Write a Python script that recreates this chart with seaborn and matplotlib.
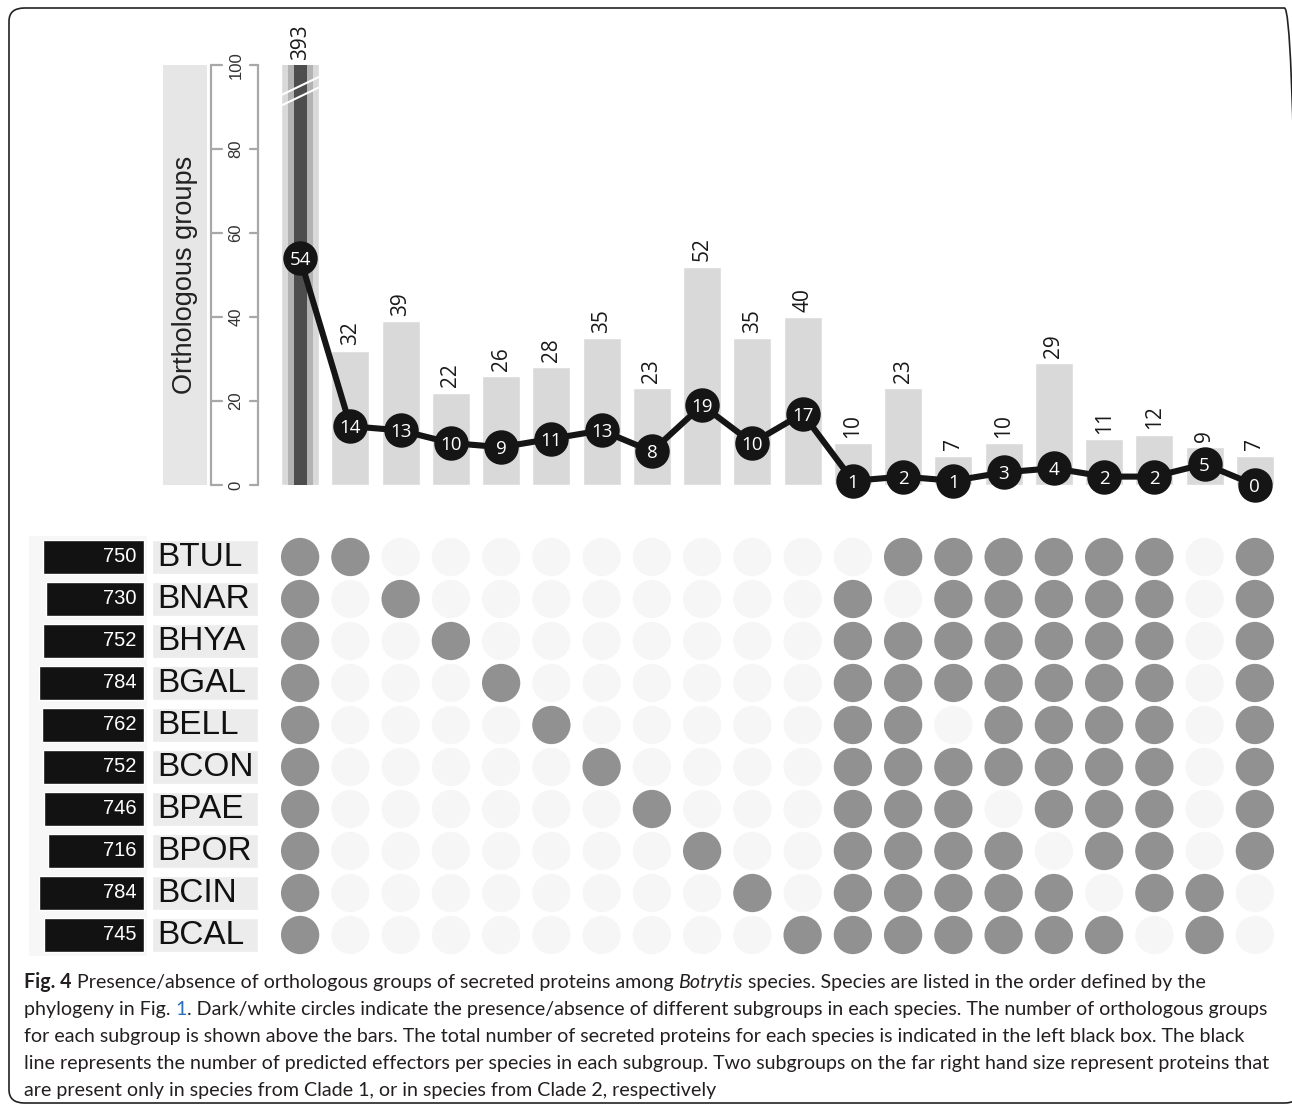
import numpy as np
import pandas as pd
import matplotlib
matplotlib.use("Agg")
import matplotlib.pyplot as plt
import seaborn as sns
from matplotlib.patches import FancyBboxPatch

# ---- data -------------------------------------------------------------
subgroups = [f"S{i:02d}" for i in range(1, 21)]
orthologous_groups = [393, 32, 39, 22, 26, 28, 35, 23, 52, 35, 40,
                      10, 23, 7, 10, 29, 11, 12, 9, 7]
predicted_effectors = [54, 14, 13, 10, 9, 11, 13, 8, 19, 10, 17,
                       1, 2, 1, 3, 4, 2, 2, 5, 0]
species = ["BTUL", "BNAR", "BHYA", "BGAL", "BELL",
           "BCON", "BPAE", "BPOR", "BCIN", "BCAL"]
secreted_totals = [750, 730, 752, 784, 762, 752, 746, 716, 784, 745]
# presence (1) / absence (0) of each subgroup, one string per species
presence = [
    "11000000000011111101",  # BTUL
    "10100000000101111101",  # BNAR
    "10010000000111111101",  # BHYA
    "10001000000111111101",  # BGAL
    "10000100000110111101",  # BELL
    "10000010000111111101",  # BCON
    "10000001000111011101",  # BPAE
    "10000000100111101101",  # BPOR
    "10000000010111110110",  # BCIN
    "10000000001111111010",  # BCAL
]
y_ticks = [0, 20, 40, 60, 80, 100]
y_label = "Orthologous groups"

caption_lines = [
    [("Fig. 4", "bold"), (" Presence/absence of orthologous groups of secreted proteins among ", "normal"),
     ("Botrytis", "italic"), (" species. Species are listed in the order defined by the", "normal")],
    [("phylogeny in Fig. ", "normal"), ("1", "link"),
     (". Dark/white circles indicate the presence/absence of different subgroups in each species. "
      "The number of orthologous groups", "normal")],
    [("for each subgroup is shown above the bars. The total number of secreted proteins for each "
      "species is indicated in the left black box. The black", "normal")],
    [("line represents the number of predicted effectors per species in each subgroup. Two subgroups "
      "on the far right hand size represent proteins that", "normal")],
    [("are present only in species from Clade 1, or in species from Clade 2, respectively", "normal")],
]

# ---- figure ---------------------------------------------------------------
W, H = 1292, 1107
sns.set_theme(style="white")
plt.rcParams["font.family"] = ["Liberation Sans", "DejaVu Sans"]
fig = plt.figure(figsize=(W / 100, H / 100), dpi=100)
fig.patch.set_facecolor("white")


def px_axes(left, top, right, bottom):
    return fig.add_axes([left / W, 1 - bottom / H, (right - left) / W, (bottom - top) / H])


PX_PER_UNIT = 4.2  # vertical pixels per orthologous group

# frame around the whole figure
fig.patches.append(FancyBboxPatch((9 / W, 1 - 1103 / H), (1300 - 9) / W, (1103 - 8) / H,
                                  boxstyle="round,pad=0,rounding_size=0.012",
                                  transform=fig.transFigure, fill=False,
                                  edgecolor="#222222", linewidth=1.2))

# ---- top: bars + effector line -------------------------------------------
ax = px_axes(275, 65, 1280, 500)
bar_df = pd.DataFrame({"subgroup": subgroups, "groups": orthologous_groups})
sns.barplot(data=bar_df, x="subgroup", y="groups", order=subgroups, color="#d9d9d9",
            saturation=1, width=0.76, ax=ax)
# layered stripes of the truncated first bar
ax.bar([0], [orthologous_groups[0]], width=0.50, color="#b3b3b3", linewidth=0)
ax.bar([0], [orthologous_groups[0]], width=0.26, color="#4d4d4d", linewidth=0)
# break marks
for y0 in (90.2, 92.7):
    ax.plot([-0.40, 0.40], [y0, y0 + 4.6], color="white", lw=1.5, solid_capstyle="butt", zorder=5)

sns.pointplot(x=subgroups, y=predicted_effectors, order=subgroups, color="#151515",
              markers="o", markersize=21.5, linewidth=4.4, errorbar=None, ax=ax, zorder=6)
for coll in ax.collections + ax.lines:
    coll.set_clip_on(False)

ax.set_xlim(-0.5, 19.5)
ax.set_ylim(-15 / PX_PER_UNIT, 100)
for i, (v, e) in enumerate(zip(orthologous_groups, predicted_effectors)):
    ax.annotate(str(v), (i, min(v, 100)), xytext=(0, 3.8), textcoords="offset points",
                rotation=90, ha="center", va="bottom", fontsize=15,
                family=["Open Sans", "DejaVu Sans"], color="#1a1a1a", annotation_clip=False)
    ax.text(i, e, str(e), ha="center", va="center_baseline", color="white",
            fontsize=13.5, family=["Open Sans", "DejaVu Sans"], zorder=10, clip_on=False)
ax.set_axis_off()

# y scale box
ax_scale = px_axes(211, 65, 258, 485)
ax_scale.set_xlim(0, 1)
ax_scale.set_ylim(0, 100)
ax_scale.set_axis_off()
grey = "#a8a8a8"
ax_scale.plot([0, 0], [0, 100], color=grey, lw=1.6, clip_on=False)
ax_scale.plot([1, 1], [0, 100], color=grey, lw=1.6, clip_on=False)
for t in y_ticks:
    ax_scale.plot([0, 0.24], [t, t], color=grey, lw=1.6, clip_on=False)
    ax_scale.plot([0.83, 1], [t, t], color=grey, lw=1.6, clip_on=False)
    ax_scale.text(0.53, t, str(t), rotation=90, ha="center", va="center",
                  fontsize=12, color="#333333")

# y label panel
ax_lab = px_axes(163, 65, 207, 485)
ax_lab.set_facecolor("#e6e6e6")
ax_lab.set_xticks([])
ax_lab.set_yticks([])
for s in ax_lab.spines.values():
    s.set_visible(False)
ax_lab.text(0.5, 0.5, y_label, rotation=90, ha="center", va="center",
            fontsize=19.5, color="#222222", transform=ax_lab.transAxes)

# ---- bottom: presence matrix -------------------------------------------
rows = []
for r, code in enumerate(presence):
    for c, ch in enumerate(code):
        rows.append({"col": c, "row": r, "present": int(ch)})
mat = pd.DataFrame(rows)
axm = px_axes(275, 536, 1280, 956)
sns.scatterplot(data=mat, x="col", y="row", hue="present",
                palette={1: "#919191", 0: "#f6f6f6"}, s=760, linewidth=0,
                legend=False, ax=axm)
axm.set_xlim(-0.5, 19.5)
axm.set_ylim(9.5, -0.5)
axm.set_axis_off()

# species name boxes
axn = px_axes(152, 536, 258, 956)
sns.barplot(x=[1] * len(species), y=species, order=species, orient="h",
            color="#ececec", saturation=1, width=0.83, ax=axn)
axn.set_xlim(0, 1)
axn.set_ylim(9.5, -0.5)
for i, name in enumerate(species):
    axn.text(0.045, i, name, ha="left", va="center", fontsize=24, color="#111111")
axn.set_axis_off()

# secreted protein totals
axt = px_axes(29, 536, 147, 956)
axt.set_facecolor("#f7f7f7")
sns.barplot(x=secreted_totals, y=species, order=species, orient="h",
            color="#121212", saturation=1, width=0.83, ax=axt)
axt.set_xlim(858, -22.4)
axt.set_ylim(9.5, -0.5)
for i, v in enumerate(secreted_totals):
    axt.annotate(str(v), (0, i), xytext=(-5.3, 0), textcoords="offset points",
                 ha="right", va="center", color="white", fontsize=14.5)
axt.set_xticks([])
axt.set_yticks([])
axt.set_xlabel("")
axt.set_ylabel("")
for s in axt.spines.values():
    s.set_visible(False)

# ---- caption -------------------------------------------------------------
cap_family = ["Lato", "Open Sans", "DejaVu Sans"]
styles = {
    "normal": dict(color="#231f20"),
    "bold": dict(color="#231f20", weight="bold"),
    "italic": dict(color="#231f20", style="italic"),
    "link": dict(color="#2a6ebb"),
}
renderer = fig.canvas.get_renderer()


def run_width(text, style, size):
    probe = fig.text(0, 0, "|" + text + "|", family=cap_family, fontsize=size, **styles[style])
    bar = fig.text(0, 0, "||", family=cap_family, fontsize=size, **styles[style])
    w = probe.get_window_extent(renderer).width - bar.get_window_extent(renderer).width
    probe.remove()
    bar.remove()
    return w


# size the caption so that its widest line fills the text block
cap_left, cap_right = 24, 1274
widest14 = max(sum(run_width(t, s, 14) for t, s in line) for line in caption_lines)
cap_size = 14 * (cap_right - cap_left) / widest14

baselines = [988, 1015, 1042, 1069, 1096]
for line, yb in zip(caption_lines, baselines):
    x = cap_left
    for text, style in line:
        fig.text(x / W, 1 - yb / H, text, family=cap_family, fontsize=cap_size,
                 va="baseline", ha="left", **styles[style])
        x += run_width(text, style, cap_size)

fig.savefig("out.png", dpi=100)
